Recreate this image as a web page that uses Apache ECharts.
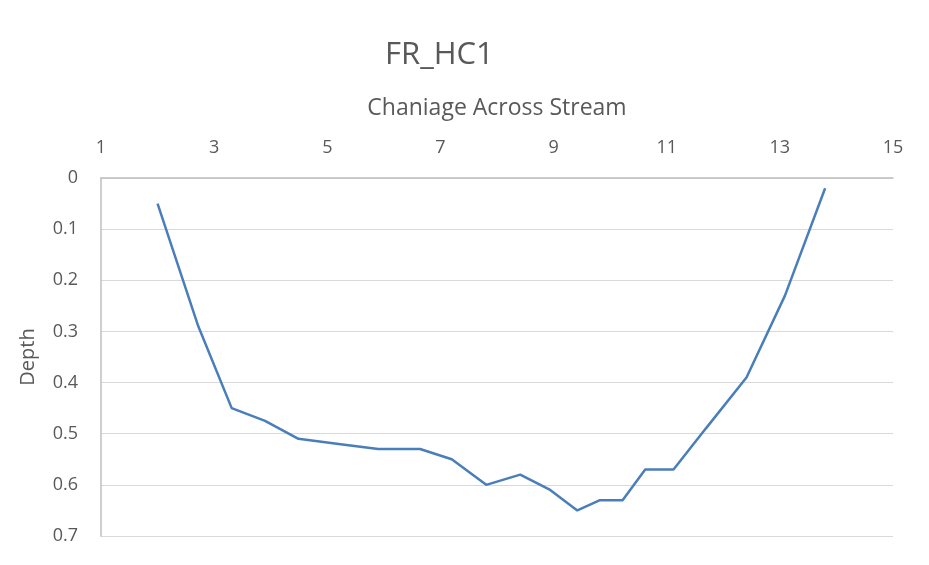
<!DOCTYPE html>
<html>
<head>
<meta charset="utf-8">
<script src="https://cdn.jsdelivr.net/npm/echarts@6/dist/echarts.min.js"></script>
<style>html,body{margin:0;padding:0;background:#fff}#c{width:929px;height:565px}</style>
</head>
<body>
<div id="c"></div>
<script>
const chainage = [2.0, 2.72, 3.31, 3.9, 4.49, 5.2, 5.9, 6.64, 7.2, 7.81, 8.41, 8.94, 9.42, 9.82, 10.22, 10.62, 11.12, 11.69, 12.41, 13.09, 13.8];
const depth    = [0.05, 0.29, 0.45, 0.475, 0.51, 0.52, 0.53, 0.53, 0.55, 0.60, 0.58, 0.61, 0.65, 0.63, 0.63, 0.57, 0.57, 0.49, 0.39, 0.23, 0.02];
const titleText = 'FR_HC1';
const xName = 'Chaniage Across Stream';
const yName = 'Depth';

const font = '"Open Sans", "Noto Sans", sans-serif';
const chart = echarts.init(document.getElementById('c'));
chart.setOption({
  animation: false,
  title: {
    text: titleText,
    left: 380, top: 35,
    textStyle: { fontFamily: font, fontSize: 31, fontWeight: 'normal', color: '#595959' }
  },
  grid: { left: 101, right: 36, top: 178, bottom: 29, containLabel: false },
  xAxis: {
    type: 'value', position: 'top', min: 1, max: 15, interval: 2,
    name: xName, nameLocation: 'middle', nameGap: 58,
    nameTextStyle: { fontFamily: font, fontSize: 23, color: '#595959' },
    axisLine: { show: true, lineStyle: { color: '#bfbfbf', width: 1.5 } },
    axisTick: { show: false },
    splitLine: { show: false },
    axisLabel: { fontFamily: font, fontSize: 18, color: '#595959', margin: 21 }
  },
  yAxis: {
    type: 'value', inverse: true, min: 0, max: 0.7, interval: 0.1,
    name: yName, nameLocation: 'middle', nameGap: 63,
    nameTextStyle: { fontFamily: font, fontSize: 20, color: '#595959' },
    axisLine: { show: true, lineStyle: { color: '#bfbfbf', width: 1.5 } },
    axisTick: { show: false },
    splitLine: { show: true, lineStyle: { color: '#d9d9d9', width: 1.2 } },
    axisLabel: { fontFamily: font, fontSize: 18, color: '#595959', margin: 23,
      formatter: v => String(+v.toFixed(1)) }
  },
  series: [{
    type: 'line',
    data: chainage.map((x, i) => [x, depth[i]]),
    showSymbol: false, symbol: 'none',
    lineStyle: { color: '#4a7ebb', width: 2.5 }
  }]
});
</script>
</body>
</html>
